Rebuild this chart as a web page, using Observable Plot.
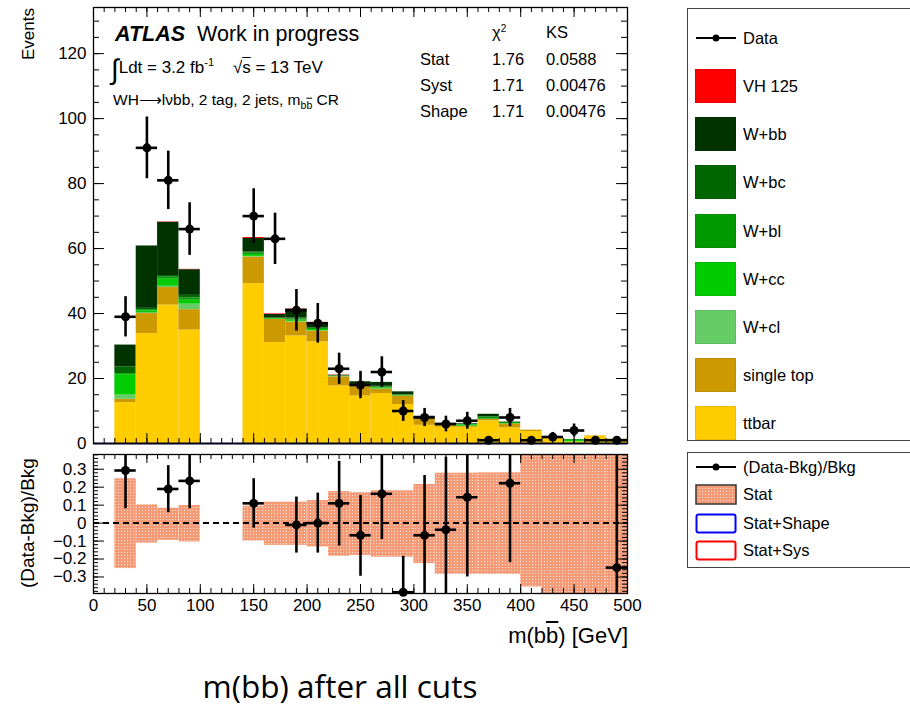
<!DOCTYPE html>
<html><head><meta charset="utf-8">
<script src="https://cdn.jsdelivr.net/npm/d3@7"></script>
<script src="https://cdn.jsdelivr.net/npm/@observablehq/plot@0.6"></script>
<style>
body{margin:0;width:910px;height:706px;overflow:hidden;background:#fff;position:relative;
 font-family:"Liberation Sans",Arial,Helvetica,sans-serif;color:#000}
.abs{position:absolute;white-space:nowrap;line-height:1}
.c{transform:translateY(-50%)}
.ol{text-decoration:overline}
.lg{position:absolute;border:1px solid #444;background:#fff}
.sw{position:absolute;box-sizing:border-box}
</style></head><body>
<div id="main" class="abs" style="left:0;top:0"></div>
<div id="ratio" class="abs" style="left:0;top:440px"></div>
<div id="over"></div>
<script>
// ---------------- data ----------------
const binLo = [20,40,60,80,140,160,180,200,220,240,260,280,300,320,340,360,380,400,420,440,460,480];
const binWidth = 20;
const procs  = ["ttbar","single top","W+cl","W+cc","W+bl","W+bc","W+bb","VH 125"];
const colors = ["#ffcc00","#cc9900","#66cc66","#00cc00","#009900","#006600","#003300","#ff0000"];
const ttbar   = [12.6,33.8,42.6,34.9,49.2,31.1,33.1,31.3,17.7,14.6,15.4,12.0,5.6,5.0,5.0,7.0,4.8,3.7,1.5,0.5,2.3,1.05];
const singleTop=[1.0,6.2,5.4,6.3,8.2,7.1,4.3,3.3,2.8,2.9,1.3,2.6,1.9,0.7,0.3,0.4,1.2,0.4,0.3,0,0.1,0.27];
const wcl     = [1.3,0.3,0.4,1.7,0.2,0,0.2,0.1,0.1,0,0.1,0,0.1,0,0,0,0,0,0,0,0,0];
const wcc     = [6.3,0.5,2.2,1.2,0.6,0.2,0.4,0.4,0.1,0.2,0.3,0.1,0.1,0.1,0.4,0.1,0.1,0,0,0.4,0,0];
const wbl     = [0.3,0.4,0.6,0.7,0.4,0.1,0.3,0.3,0.1,0.2,0.3,0.2,0.2,0.2,0.2,0.6,0.4,0,0.2,0.3,0,0];
const wbc     = [2.1,0.4,0.5,0.8,0.4,0.2,0.3,0.2,0.1,0.1,0.2,0.1,0.1,0.1,0,0.2,0,0,0,0,0,0];
const wbb     = [6.7,19.2,16.4,7.9,4.1,1.0,2.8,1.6,0.1,1.0,1.2,0.9,0.4,0.1,0.2,0.7,0.1,0,0,0,0,0];
const vh      = [0,0,0.1,0.1,0.3,0.2,0.1,0.1,0.1,0,0,0,0,0,0,0,0,0,0,0,0,0];
const dataX   = [30,50,70,90,150,170,190,210,230,250,270,290,310,330,350,370,390,410,430,450,470,490];
const dataY   = [39,91,81,66,70,63,41,37,23,18,22,10,8,6,7,1,8,1,2,4,1,1];
const dataErr = [6.2,9.5,9.0,8.1,8.4,7.9,6.4,6.1,4.8,4.2,4.7,3.2,2.8,2.4,2.6,1.0,2.8,1.0,1.4,2.0,1.0,1.0];
// ratio panel
const ratioX  = [30,70,90,150,190,210,230,250,270,290,310,330,350,390,490];
const ratioV  = [0.293,0.19,0.235,0.11,-0.01,0.0,0.11,-0.068,0.163,-0.385,-0.068,-0.037,0.144,0.222,-0.248];
const ratioLo = [0.08,0.058,0.08,-0.028,-0.167,-0.167,-0.128,-0.296,-0.092,-0.6,-0.6,-0.6,-0.3,-0.22,-1];
const ratioHi = [0.55,0.32,0.45,0.247,0.145,0.167,0.344,0.154,0.42,-0.185,0.265,0.367,0.5,0.6,1];
const statUp  = [0.247,0.102,0.083,0.098,0.094,0.117,0.117,0.126,0.176,0.17,0.18,0.18,0.215,0.278,0.278,0.28,0.28,0.5,1,1,1,1];
const statDn  = [0.253,0.111,0.096,0.105,0.100,0.124,0.124,0.133,0.185,0.18,0.19,0.19,0.225,0.285,0.285,0.285,0.285,0.356,1,1,1,1];
// axes
const xMajor = [0,50,100,150,200,250,300,350,400,450,500];
const xMinor = d3.range(0,501,10);
const yMajor = [0,20,40,60,80,100,120];
const yMinor = d3.range(0,135,5);
const rMajor = [-0.3,-0.2,-0.1,0,0.1,0.2,0.3];
const rMinor = d3.range(-38,39,2).map(v=>v/100);

const FONT = '"Liberation Sans",Arial,Helvetica,sans-serif';
// ---------------- tables ----------------
const series = [ttbar,singleTop,wcl,wcc,wbl,wbc,wbb,vh];
const rects = [];
binLo.forEach((lo,i)=>{
  let acc = 0;
  series.forEach((s,k)=>{
    if (s[i] > 0) rects.push({x1: lo, x2: lo+binWidth, y1: acc, y2: acc+s[i], proc: procs[k]});
    acc += s[i];
  });
});
const pts = dataX.map((x,i)=>({x, v: dataY[i], e: dataErr[i]}));
const rpts = ratioX.map((x,i)=>({x, v: ratioV[i], lo: ratioLo[i], hi: ratioHi[i]}));
const band = binLo.map((lo,i)=>({x1: lo, x2: lo+binWidth, y1: -statDn[i], y2: statUp[i]}));

function frameTicks(innerW, innerH, xMaj, xMin, yMaj, yMin, L, l, Ly, ly){
  return [
    Plot.tickX(xMin, {x: d=>d, insetTop: innerH - l, stroke: "#000"}),
    Plot.tickX(xMaj, {x: d=>d, insetTop: innerH - L, stroke: "#000"}),
    Plot.tickX(xMin, {x: d=>d, insetBottom: innerH - l, stroke: "#000"}),
    Plot.tickX(xMaj, {x: d=>d, insetBottom: innerH - L, stroke: "#000"}),
    Plot.tickY(yMin, {y: d=>d, insetRight: innerW - ly, stroke: "#000"}),
    Plot.tickY(yMaj, {y: d=>d, insetRight: innerW - Ly, stroke: "#000"}),
    Plot.tickY(yMin, {y: d=>d, insetLeft: innerW - ly, stroke: "#000"}),
    Plot.tickY(yMaj, {y: d=>d, insetLeft: innerW - Ly, stroke: "#000"})
  ];
}

// ---------------- main panel ----------------
const W = 660, mL = 93, mR = 33;
const innerW = W - mL - mR;
const mainH = 462, mT = 7, mB = 19;
const main = Plot.plot({
  width: W, height: mainH, marginLeft: mL, marginRight: mR, marginTop: mT, marginBottom: mB,
  x: {domain: [0,500], axis: null},
  y: {domain: [0,134.2]},
  color: {domain: procs, range: colors},
  style: {fontFamily: FONT, fontSize: "17px", background: "transparent", color: "#000"},
  marks: [
    Plot.rect(rects, {x1: "x1", x2: "x2", y1: "y1", y2: "y2", fill: "proc"}),
    Plot.ruleY([0], {stroke: "#2a2a70", strokeWidth: 2}),
    ...frameTicks(innerW, mainH-mT-mB, xMajor, xMinor, yMajor, yMinor, 10, 5, 11, 6),
    Plot.frame({stroke: "#000", strokeWidth: 1.3}),
    Plot.ruleX(pts, {x: "x", y1: d=>Math.max(0,d.v-d.e), y2: d=>d.v+d.e, stroke: "#000", strokeWidth: 2.6}),
    Plot.ruleY(pts, {y: "v", x1: d=>d.x-10, x2: d=>d.x+10, stroke: "#000", strokeWidth: 2.6}),
    Plot.dot(pts, {x: "x", y: "v", r: 4.5, fill: "#000", stroke: "none"}),
    Plot.axisY({ticks: yMajor, tickSize: 0, tickPadding: 7, label: null, fontSize: 17})
  ]
});
document.getElementById("main").append(main);

// ---------------- ratio panel ----------------
const rH = 190, rT = 14, rB = 37;
const ratio = Plot.plot({
  width: W, height: rH, marginLeft: mL, marginRight: mR, marginTop: rT, marginBottom: rB,
  x: {domain: [0,500]},
  y: {domain: [-0.392, 0.382]},
  style: {fontFamily: FONT, fontSize: "17px", background: "transparent", color: "#000"},
  marks: [
    Plot.rect(band, {x1: "x1", x2: "x2", y1: "y1", y2: "y2", fill: "url(#statpat)", clip: true}),
    Plot.ruleY([0], {stroke: "#000", strokeWidth: 2, strokeDasharray: "6,4"}),
    ...frameTicks(innerW, rH-rT-rB, xMajor, xMinor, rMajor, rMinor, 9, 5, 11, 5),
    Plot.frame({stroke: "#000", strokeWidth: 1.3}),
    Plot.ruleX(rpts, {x: "x", y1: "lo", y2: "hi", stroke: "#000", strokeWidth: 2.6, clip: true}),
    Plot.ruleY(rpts, {y: "v", x1: d=>d.x-10, x2: d=>d.x+10, stroke: "#000", strokeWidth: 2.6, clip: true}),
    Plot.dot(rpts, {x: "x", y: "v", r: 4.5, fill: "#000", stroke: "none"}),
    Plot.axisY({ticks: rMajor, tickSize: 0, tickPadding: 7, label: null, fontSize: 17,
      tickFormat: d => Math.abs(d) < 1e-9 ? "0" : d3.format(".1f")(d)}),
    Plot.axisX({ticks: xMajor, tickSize: 0, tickPadding: 5, label: null, fontSize: 17})
  ]
});
ratio.insertAdjacentHTML("afterbegin",
 '<defs><pattern id="statpat" width="3" height="3" patternUnits="userSpaceOnUse">' +
 '<rect width="3" height="3" fill="#f59a76"/><rect x="1" y="1" width="1" height="1" fill="#fde3d8"/></pattern></defs>');
document.getElementById("ratio").append(ratio);

// ---------------- text overlays & legends ----------------
const legend1 = [
  {label: "VH 125", color: "#ff0000"},
  {label: "W+bb", color: "#003300"},
  {label: "W+bc", color: "#006600"},
  {label: "W+bl", color: "#009900"},
  {label: "W+cc", color: "#00cc00"},
  {label: "W+cl", color: "#66cc66"},
  {label: "single top", color: "#cc9900"},
  {label: "ttbar", color: "#ffcc00"}
];
let h = '';
h += `<div class="abs" style="left:20px;top:8px;font-size:17px;writing-mode:vertical-rl;transform:rotate(180deg)">Events</div>`;
h += `<div class="abs" style="left:18px;top:455px;height:137px;font-size:19px;writing-mode:vertical-rl;transform:rotate(180deg);text-align:center">(Data-Bkg)/Bkg</div>`;
h += `<div class="abs c" style="left:115px;top:35px;font-size:21.5px"><b><i>ATLAS</i></b>&nbsp; Work in progress</div>`;
h += `<div class="abs c" style="left:111px;top:70px;font-size:17px"><span style="font-size:28px;vertical-align:-6px">∫</span>Ldt = 3.2 fb<sup style="font-size:11px">-1</sup>&nbsp;&nbsp;&nbsp; √<span class="ol">s</span> = 13 TeV</div>`;
h += `<div class="abs c" style="left:113px;top:101px;font-size:15.5px">WH⟶lνbb, 2 tag, 2 jets, m<sub style="font-size:10.5px">b<span class="ol">b</span></sub> CR</div>`;
const st = [["","χ<sup style='font-size:10px'>2</sup>","KS"],["Stat","1.76","0.0588"],["Syst","1.71","0.00476"],["Shape","1.71","0.00476"]];
const stY = [32,59,85,111], stX = [420,492,546];
st.forEach((row,r)=>row.forEach((t,c)=>{ if(t) h += `<div class="abs c" style="left:${stX[c]}px;top:${stY[r]}px;font-size:16.5px">${t}</div>`; }));
h += `<div class="abs c" style="right:${910-628}px;top:636px;font-size:22px">m(b<span class="ol">b</span>) [GeV]</div>`;
h += `<div style="position:absolute;left:140px;width:400px;top:665px;text-align:center;white-space:nowrap;line-height:42px;height:42px;font-size:31.5px;font-family:'Open Sans',sans-serif">m(bb) after all cuts</div>`;
// legend 1
h += `<div class="lg" style="left:687px;top:8px;width:260px;height:431px"></div>`;
h += `<svg class="abs" style="left:695px;top:30px" width="42" height="16"><line x1="1" y1="8" x2="41" y2="8" stroke="#000" stroke-width="2"/><circle cx="21" cy="8" r="3.5" fill="#000"/></svg>`;
h += `<div class="abs c" style="left:743px;top:38px;font-size:16.5px">Data</div>`;
legend1.forEach((e,i)=>{
  const cy = 86 + 48.2*i;
  h += `<div class="sw" style="left:695px;top:${cy-17}px;width:41px;height:34px;background:${e.color};border:1px solid rgba(0,0,0,0.08)"></div>`;
  h += `<div class="abs c" style="left:743px;top:${cy}px;font-size:16.5px">${e.label}</div>`;
});
// legend 2
h += `<div class="lg" style="left:687px;top:452px;width:260px;height:114px"></div>`;
h += `<svg class="abs" style="left:695px;top:459px" width="42" height="16"><line x1="1" y1="8" x2="41" y2="8" stroke="#000" stroke-width="2"/><circle cx="21" cy="8" r="3.5" fill="#000"/></svg>`;
h += `<div class="abs c" style="left:743px;top:467px;font-size:16.5px">(Data-Bkg)/Bkg</div>`;
h += `<svg class="abs" style="left:695px;top:484px" width="42" height="22"><defs><pattern id="statpat2" width="3" height="3" patternUnits="userSpaceOnUse"><rect width="3" height="3" fill="#f59a76"/><rect x="1" y="1" width="1" height="1" fill="#fde3d8"/></pattern></defs><rect x="1" y="1" width="40" height="19" fill="url(#statpat2)" stroke="#333" stroke-width="1.5"/></svg>`;
h += `<div class="abs c" style="left:743px;top:494px;font-size:16.5px">Stat</div>`;
h += `<svg class="abs" style="left:695px;top:513px" width="42" height="22"><rect x="1.5" y="1.5" width="39" height="18" rx="2" fill="#fff" stroke="#0000ff" stroke-width="2"/></svg>`;
h += `<div class="abs c" style="left:743px;top:523px;font-size:16.5px">Stat+Shape</div>`;
h += `<svg class="abs" style="left:695px;top:540px" width="42" height="22"><rect x="1.5" y="1.5" width="39" height="18" rx="2" fill="#fff" stroke="#ff0000" stroke-width="2"/></svg>`;
h += `<div class="abs c" style="left:743px;top:550px;font-size:16.5px">Stat+Sys</div>`;
document.getElementById("over").innerHTML = h;
</script>
</body></html>
